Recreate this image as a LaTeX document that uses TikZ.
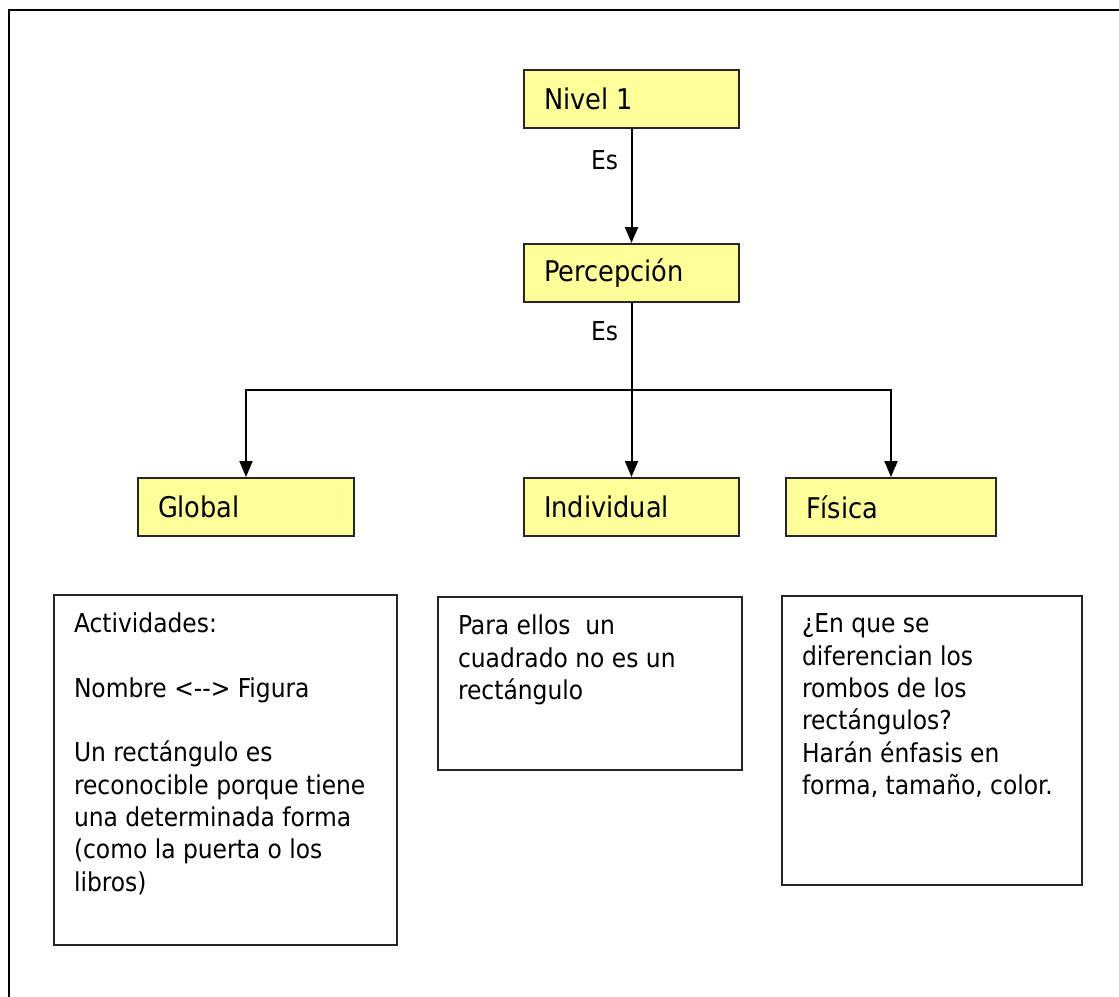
\documentclass[tikz,border=0pt]{standalone}
\usepackage{fontspec}
\setmainfont{DejaVu Sans Condensed}
\usetikzlibrary{arrows.meta}
\definecolor{amarillo}{RGB}{255,255,153}
\tikzset{
  caja/.style={draw=black!85, fill=amarillo, line width=2pt, anchor=north west,
    minimum height=58pt, inner xsep=20pt, inner ysep=0pt,
    font=\fontsize{28.5}{32}\selectfont},
  nota/.style={draw=black!85, line width=2pt, anchor=north west, inner xsep=20pt,
    inner ysep=18pt, align=left, font=\fontsize{26}{32.3}\selectfont},
  flecha/.style={line width=2pt, -{Triangle[length=16pt,width=13pt]}},
  linea/.style={line width=2pt},
  rotulo/.style={left=9pt, font=\fontsize{26}{30}\selectfont}
}
\begin{document}
\begin{tikzpicture}[x=1pt,y=-1pt]
  \useasboundingbox (0,0) rectangle (1119,996);
  % marco
  \draw[line width=2.2pt] (9,1000) -- (9,10) -- (1125,10);

  % niveles
  \node[caja, minimum width=215pt] (nivel) at (523,69) {\makebox[175pt][l]{Nivel 1}};
  \node[caja, minimum width=215pt] (percepcion) at (523,243) {\makebox[175pt][l]{Percepción}};
  \node[caja, minimum width=216pt] (global) at (137,477) {\makebox[176pt][l]{Global}};
  \node[caja, minimum width=215pt] (individual) at (523,477) {\makebox[175pt][l]{Individual}};
  \node[caja, minimum width=210pt] (fisica) at (785,477) {\makebox[170pt][l]{Física}};

  \coordinate (rama) at (percepcion.south |- 0,390);

  \draw[flecha] (nivel) -- (percepcion) node[pos=0.27, rotulo] {Es};
  \draw[linea] (percepcion) -- (rama) node[pos=0.32, rotulo] {Es};
  \draw[flecha] (rama) -- (individual);
  \draw[flecha] (rama) -| (global);
  \draw[flecha] (rama) -| (fisica);

  % notas
  \node[nota] (actividades) at (53,594) {\parbox[t][314pt][t]{303pt}{Actividades:\\[32.3pt]Nombre <{-}{-}> Figura\\[32.3pt]Un rectángulo es\\reconocible porque tiene\\una determinada forma\\(como la puerta o los\\libros)}};
  \node[nota] (ellos) at (437,596) {\parbox[t][137pt][t]{264pt}{Para ellos\ \ un\\cuadrado no es un\\rectángulo}};
  \node[nota] (rombos) at (781,595) {\parbox[t][253pt][t]{260pt}{¿En que se\\diferencian los\\rombos de los\\rectángulos?\\Harán énfasis en\\forma, tamaño, color.}};
\end{tikzpicture}
\end{document}
